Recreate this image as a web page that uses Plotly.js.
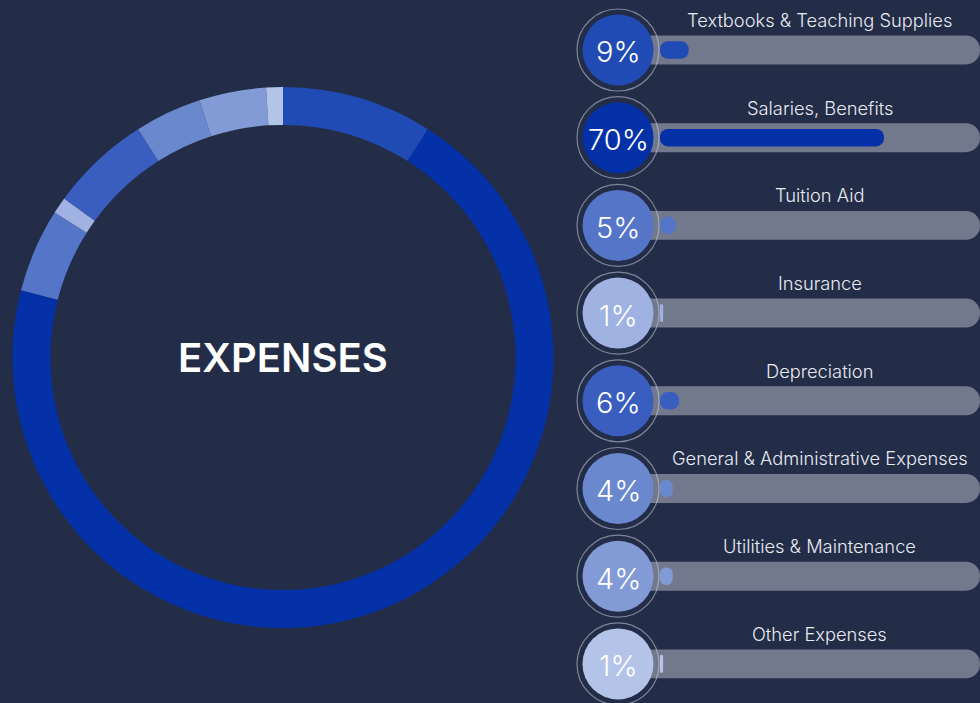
<!DOCTYPE html>
<html>
<head>
<meta charset="utf-8">
<script src="https://cdn.plot.ly/plotly-3.0.1.min.js"></script>
<style>
  html, body { margin: 0; padding: 0; background: #232D48; }
  #chart { width: 980px; height: 703px; }
</style>
</head>
<body>
<div id="chart"></div>
<script>
// ---- data ----
const categories = [
  "Textbooks & Teaching Supplies",
  "Salaries, Benefits",
  "Tuition Aid",
  "Insurance",
  "Depreciation",
  "General & Administrative Expenses",
  "Utilities & Maintenance",
  "Other Expenses"
];
const values = [9, 70, 5, 1, 6, 4, 4, 1];
const colors = ["#204AB4", "#0431A8", "#5475C8", "#A0B2E1", "#3A5EC0", "#6A88CE", "#829BD6", "#B4C4E8"];
const centerTitle = "EXPENSES";
const maxValue = 100;

// ---- styling ----
const BG = "#232D48";
const TRACK = "#73798C";
const FONT = "Inter, 'Noto Sans', sans-serif";
const percentText = values.map(v => v + "%");

const donut = {
  type: "pie",
  values: values,
  labels: categories,
  sort: false,
  direction: "clockwise",
  rotation: 0,
  hole: 0.86,
  marker: { colors: colors, line: { width: 0 } },
  textinfo: "none",
  hoverinfo: "skip",
  showlegend: false,
  domain: { x: [0.01276, 0.5648], y: [0.1067, 0.8762] }
};

const trackBars = {
  type: "bar",
  orientation: "h",
  y: categories,
  x: categories.map(() => maxValue + 15),
  base: -15,
  width: 0.33,
  marker: { color: TRACK, cornerradius: 15 },
  xaxis: "x", yaxis: "y",
  hoverinfo: "skip", showlegend: false
};

const fillBars = {
  type: "bar",
  orientation: "h",
  y: categories,
  x: values,
  base: 0,
  width: 0.2,
  marker: { color: colors, cornerradius: 9 },
  xaxis: "x", yaxis: "y",
  hoverinfo: "skip", showlegend: false
};

const ringX = -13.1;
const rings = {
  type: "scatter",
  mode: "markers",
  x: categories.map(() => ringX),
  y: categories,
  marker: { size: 82, color: "rgba(0,0,0,0)", line: { color: "rgba(200,205,220,0.55)", width: 1.2 } },
  hoverinfo: "skip", showlegend: false, cliponaxis: false
};

const circles = {
  type: "scatter",
  mode: "markers",
  x: categories.map(() => ringX),
  y: categories,
  marker: { size: 71, color: colors, line: { width: 0 } },
  hoverinfo: "skip", showlegend: false, cliponaxis: false
};

const annotations = categories.map(c => ({
  xref: "x", yref: "y",
  x: 50, y: c,
  yshift: 30,
  text: c,
  showarrow: false,
  font: { family: FONT, size: 18.3, weight: 300, color: "#E8EAF0" },
  xanchor: "center", yanchor: "middle"
}));
categories.forEach((c, i) => annotations.push({
  xref: "x", yref: "y",
  x: ringX, y: c,
  yshift: -2,
  text: percentText[i],
  showarrow: false,
  font: { family: FONT, size: 29, weight: 300, color: "#FFFFFF" },
  xanchor: "center", yanchor: "middle"
}));
annotations.push({
  xref: "paper", yref: "paper",
  x: (0.01276 + 0.5648) / 2, y: (0.1067 + 0.8762) / 2,
  text: centerTitle,
  showarrow: false,
  font: { family: FONT, size: 40, weight: 600, color: "#FFFFFF" },
  xanchor: "center", yanchor: "middle"
});

const layout = {
  width: 980, height: 703,
  margin: { l: 0, r: 0, t: 0, b: 0, pad: 0 },
  paper_bgcolor: BG, plot_bgcolor: BG,
  barmode: "overlay",
  xaxis: {
    domain: [0.58, 1], range: [-28.6, 100],
    visible: false, fixedrange: true
  },
  yaxis: {
    type: "category",
    categoryorder: "array", categoryarray: categories,
    range: [7.446, -0.570],
    visible: false, fixedrange: true
  },
  annotations: annotations,
  showlegend: false
};

Plotly.newPlot("chart", [donut, trackBars, fillBars, rings, circles], layout, { displayModeBar: false, staticPlot: true });
</script>
</body>
</html>
